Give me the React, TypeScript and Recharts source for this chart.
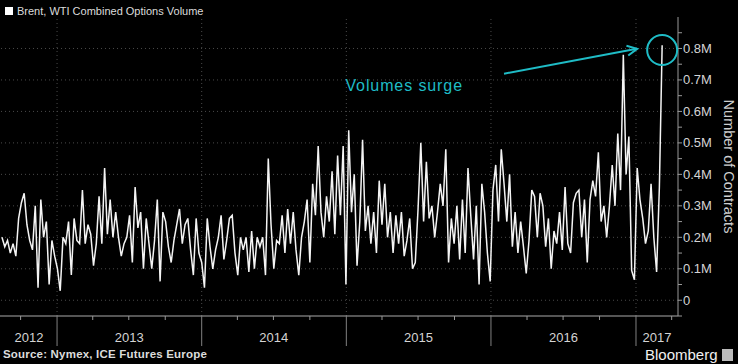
import { Line, LineChart, ReferenceDot, ReferenceLine, XAxis, YAxis } from "recharts";

// weekly combined Brent + WTI options volume, millions of contracts
const DAY = 86400000;
const firstWeek = Date.UTC(2012, 7, 15);

const vol2012 = [0.20, 0.17, 0.19, 0.15, 0.18, 0.14, 0.26, 0.31, 0.34, 0.24, 0.19, 0.16, 0.30, 0.04, 0.32, 0.20, 0.25, 0.05, 0.19, 0.14];
const vol2013 = [
  0.10, 0.03, 0.20, 0.18, 0.25, 0.08, 0.26, 0.19, 0.18, 0.35, 0.18, 0.24, 0.21, 0.11, 0.18, 0.33, 0.18, 0.42, 0.21, 0.32,
  0.20, 0.28, 0.20, 0.14, 0.18, 0.20, 0.27, 0.12, 0.36, 0.23, 0.28, 0.10, 0.26, 0.18, 0.10, 0.19, 0.32, 0.06, 0.28, 0.25,
  0.17, 0.12, 0.19, 0.24, 0.29, 0.18, 0.24, 0.26, 0.16, 0.08, 0.26, 0.15,
];
const vol2014 = [
  0.12, 0.04, 0.26, 0.17, 0.10, 0.16, 0.20, 0.27, 0.13, 0.19, 0.26, 0.27, 0.15, 0.08, 0.20, 0.16, 0.20, 0.09, 0.22, 0.10,
  0.20, 0.17, 0.20, 0.08, 0.45, 0.24, 0.10, 0.19, 0.18, 0.27, 0.15, 0.29, 0.18, 0.28, 0.16, 0.08, 0.20, 0.25, 0.32, 0.12,
  0.37, 0.27, 0.49, 0.28, 0.20, 0.33, 0.25, 0.41, 0.21, 0.46, 0.27, 0.49, 0.05,
];
const vol2015 = [
  0.54, 0.28, 0.40, 0.11, 0.25, 0.51, 0.22, 0.30, 0.18, 0.28, 0.15, 0.38, 0.24, 0.37, 0.20, 0.28, 0.15, 0.27, 0.18, 0.28,
  0.14, 0.19, 0.26, 0.10, 0.12, 0.29, 0.50, 0.25, 0.44, 0.26, 0.30, 0.20, 0.28, 0.37, 0.30, 0.48, 0.12, 0.26, 0.18, 0.30,
  0.13, 0.32, 0.15, 0.42, 0.27, 0.13, 0.30, 0.05, 0.37, 0.28, 0.15, 0.06,
];
const vol2016 = [
  0.35, 0.43, 0.25, 0.48, 0.37, 0.25, 0.40, 0.17, 0.28, 0.15, 0.25, 0.17, 0.085, 0.19, 0.35, 0.33, 0.20, 0.34, 0.30, 0.17,
  0.26, 0.10, 0.22, 0.18, 0.28, 0.16, 0.36, 0.18, 0.15, 0.31, 0.34, 0.35, 0.20, 0.32, 0.12, 0.32, 0.38, 0.33, 0.47, 0.25,
  0.30, 0.20, 0.30, 0.43, 0.30, 0.53, 0.35, 0.78, 0.40, 0.52, 0.095, 0.065,
];
const vol2017 = [0.42, 0.32, 0.26, 0.18, 0.22, 0.37, 0.20, 0.09, 0.36, 0.81];

const volumes = [...vol2012, ...vol2013, ...vol2014, ...vol2015, ...vol2016, ...vol2017];
const data = volumes.map((v, i) => ({ t: firstWeek + i * 7 * DAY, v }));

const xDomain = [Date.UTC(2012, 7, 10), Date.UTC(2017, 3, 17)];
const yearStarts = [2013, 2014, 2015, 2016, 2017].map((y) => Date.UTC(y, 0, 1));
const quarterTicks = [
  Date.UTC(2012, 9, 1),
  Date.UTC(2013, 0, 1), Date.UTC(2013, 3, 1), Date.UTC(2013, 6, 1), Date.UTC(2013, 9, 1),
  Date.UTC(2014, 0, 1), Date.UTC(2014, 3, 1), Date.UTC(2014, 6, 1), Date.UTC(2014, 9, 1),
  Date.UTC(2015, 0, 1), Date.UTC(2015, 3, 1), Date.UTC(2015, 6, 1), Date.UTC(2015, 9, 1),
  Date.UTC(2016, 0, 1), Date.UTC(2016, 3, 1), Date.UTC(2016, 6, 1), Date.UTC(2016, 9, 1),
  Date.UTC(2017, 0, 1), Date.UTC(2017, 3, 1),
];
const yearLabelDates = [Date.UTC(2012, 9, 22), Date.UTC(2013, 6, 2), Date.UTC(2014, 6, 2), Date.UTC(2015, 6, 2), Date.UTC(2016, 6, 2), Date.UTC(2017, 1, 23)];
const yearLabels = ["2012", "2013", "2014", "2015", "2016", "2017"];

const yTicks = [-0.05, 0, 0.05, 0.1, 0.15, 0.2, 0.25, 0.3, 0.35, 0.4, 0.45, 0.5, 0.55, 0.6, 0.65, 0.7, 0.75, 0.8, 0.85];
const yGrid = [0, 0.1, 0.2, 0.3, 0.4, 0.5, 0.6, 0.7, 0.8];

const CYAN = "#1fbcc6";
const FONT = "'Liberation Sans', Arial, sans-serif";

const XTick = (props: any) => {
  const { x, y, payload } = props;
  const t = payload.value;
  const li = yearLabelDates.indexOf(t);
  if (li >= 0) {
    return (
      <text x={x} y={y + 26} textAnchor="middle" fill="#d4d4d4" fontSize={13} fontFamily={FONT}>
        {yearLabels[li]}
      </text>
    );
  }
  if (yearStarts.includes(t)) return <line x1={x} x2={x} y1={y} y2={y + 30} stroke="#808080" />;
  return <line x1={x} x2={x} y1={y} y2={y + 4} stroke="#999" />;
};

const YTick = (props: any) => {
  const { x, y, payload } = props;
  const v = payload.value;
  const major = v >= 0 && Math.abs(v * 10 - Math.round(v * 10)) < 1e-6;
  if (!major) return <g />;
  return (
    <text x={x} y={y} dy={4.5} fill="#d4d4d4" fontSize={13} fontFamily={FONT}>
      {v === 0 ? "0" : `${v.toFixed(1)}M`}
    </text>
  );
};

const ArrowHead = (props: any) => {
  const { cx, cy } = props;
  return (
    <path
      d={`M${cx - 10},${cy - 5} L${cx},${cy} L${cx - 10},${cy + 5}`}
      transform={`rotate(-10.4 ${cx} ${cy})`}
      fill="none"
      stroke={CYAN}
      strokeWidth={2}
    />
  );
};

function App() {
  return (
    <div style={{ position: "absolute", left: 0, top: 0, width: 738, height: 364, background: "#000", fontFamily: FONT, overflow: "hidden" }}>
      <div style={{ position: "absolute", left: 5, top: 4, display: "flex", alignItems: "center", color: "#dcdcdc", fontSize: 11, lineHeight: "14px" }}>
        <span style={{ display: "inline-block", width: 8, height: 8, background: "#fff", marginRight: 4 }} />
        Brent, WTI Combined Options Volume
      </div>
      <LineChart width={738} height={364} data={data} margin={{ top: 17, right: 0, bottom: 18, left: 0 }}>
        {yGrid.map((g) => (
          <ReferenceLine key={`h${g}`} y={g} stroke="#4a4a4a" strokeDasharray="1 3" />
        ))}
        {yearStarts.map((t) => (
          <ReferenceLine key={`v${t}`} x={t} stroke="#4a4a4a" strokeDasharray="1 3" />
        ))}
        <XAxis
          dataKey="t"
          type="number"
          domain={xDomain}
          allowDataOverflow
          ticks={[...quarterTicks, ...yearLabelDates].sort((a, b) => a - b)}
          interval={0}
          tick={XTick}
          tickLine={false}
          tickSize={0}
          tickMargin={0}
          height={30}
          stroke="#aaa"
        />
        <YAxis
          orientation="right"
          type="number"
          domain={[-0.05, 0.9]}
          ticks={yTicks}
          interval={0}
          width={60}
          tick={YTick}
          tickSize={4}
          tickMargin={1}
          stroke="#999"
          label={{ value: "Number of Contracts", angle: 90, position: "center", dx: 21, fill: "#cfcfcf", fontSize: 14.5, fontFamily: FONT }}
        />
        <Line type="linear" dataKey="v" stroke="#f4f4f4" strokeWidth={1.5} dot={false} isAnimationActive={false} />
        <ReferenceLine
          segment={[
            { x: Date.UTC(2016, 1, 3), y: 0.72 },
            { x: Date.UTC(2017, 0, 3), y: 0.799 },
          ]}
          stroke={CYAN}
          strokeWidth={2}
        />
        <ReferenceDot x={Date.UTC(2017, 0, 4)} y={0.799} r={6} shape={ArrowHead} />
        <ReferenceDot x={data[data.length - 1].t} y={0.795} r={15} fill="none" stroke={CYAN} strokeWidth={2} />
        <ReferenceDot
          x={Date.UTC(2015, 4, 27)}
          y={0.683}
          r={1}
          fill="none"
          stroke="none"
          label={{ value: "Volumes surge", position: "center", fill: CYAN, fontSize: 16, fontFamily: FONT, letterSpacing: 0.9 }}
        />
      </LineChart>
      <div style={{ position: "absolute", left: 3, top: 347, color: "#dcdcdc", fontSize: 11.5, lineHeight: "14px", fontWeight: "bold", letterSpacing: 0.2 }}>
        Source: Nymex, ICE Futures Europe
      </div>
      <div style={{ position: "absolute", left: 645, top: 347, color: "#f0f0f0", fontSize: 15, lineHeight: "16px", display: "flex", alignItems: "center" }}>
        Bloomberg
        <span style={{ display: "inline-block", width: 11, height: 12, background: "#bbb", marginLeft: 4 }} />
      </div>
    </div>
  );
}

export default App;
